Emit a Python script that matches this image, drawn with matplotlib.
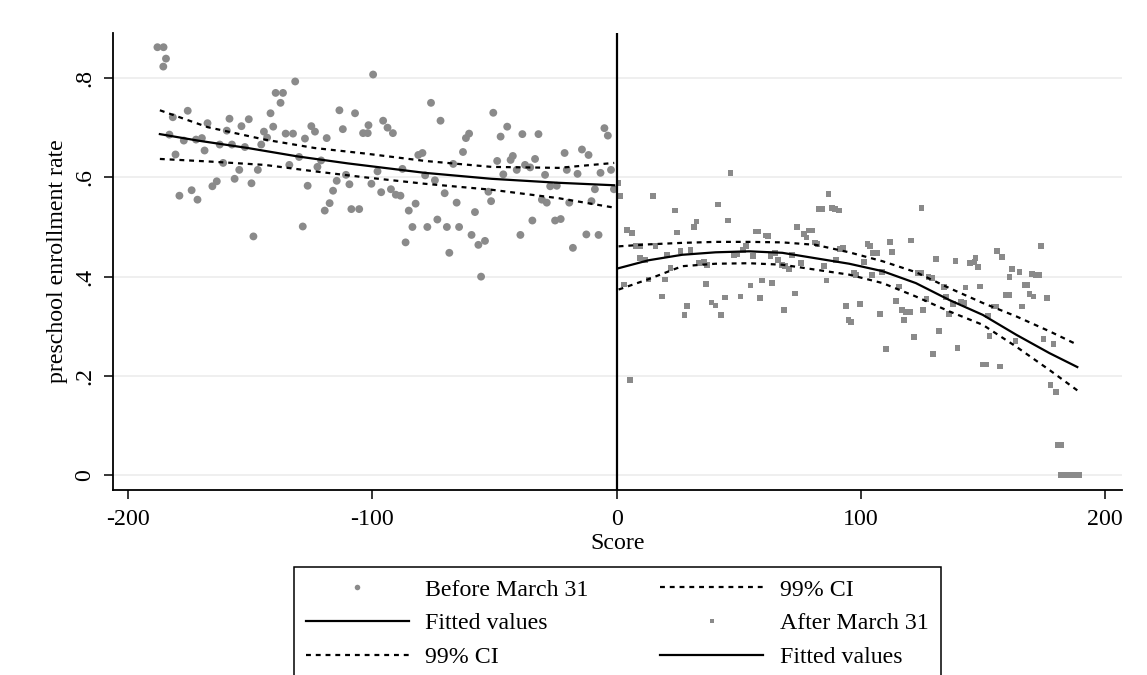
import matplotlib
matplotlib.use("Agg")
from matplotlib import pyplot as plt
from matplotlib.lines import Line2D

plt.rcParams["font.family"] = ["Liberation Serif", "DejaVu Serif"]
plt.rcParams["font.size"] = 17.2
plt.rcParams["axes.unicode_minus"] = False

# points left of the cutoff (score, enrollment rate)
before_x = [
    -188, -185.5, -184.5, -185.6, -181.7, -175.6, -183.1, -180.6, -179.0, -174.0,
    -171.6, -177.2, -172.2, -169.8, -168.7, -167.5, -162.5, -158.5, -159.6, -161.1,
    -165.5, -163.7, -157.5, -156.4, -153.6, -150.6, -152.2, -154.5, -149.5, -148.7,
    -146.9, -144.4, -143.1, -145.5, -141.7, -140.6, -139.6, -136.6, -137.6, -135.5,
    -132.5, -131.6, -134.0, -130.0, -127.6, -126.5, -125.0, -123.5, -122.5, -121.0,
    -118.7, -113.5, -112.1, -107.1, -103.8, -101.9, -110.8, -114.6, -109.4, -116.1,
    -117.5, -119.5, -108.6, -105.4, -128.5, -99.7, -101.6, -95.6, -93.8, -91.6,
    -100.4, -97.9, -96.4, -92.4, -90.4, -88.5, -87.7, -82.3, -85.1, -83.6,
    -77.5, -73.4, -69.5, -64.5, -81.2, -79.5, -78.4, -76.0, -74.4, -72.1,
    -70.4, -66.9, -65.5, -62.9, -61.7, -60.4, -58.0, -52.5, -51.4, -50.5,
    -48.9, -47.5, -46.4, -44.8, -43.4, -42.5, -40.9, -38.6, -37.5, -35.4,
    -33.4, -32.0, -34.5, -30.6, -28.6, -29.3, -27.2, -24.5, -25.2, -22.9,
    -21.3, -20.4, -19.4, -16.0, -14.2, -11.5, -10.3, -8.9, -6.6, -5.0,
    -3.6, -2.3, -1.1, -86.4, -68.5, -59.4, -56.6, -53.9, -55.5, -39.4,
    -17.9, -12.4, -7.4,
]
before_y = [
    0.862, 0.862, 0.839, 0.823, 0.721, 0.734, 0.686, 0.646, 0.563, 0.574,
    0.555, 0.674, 0.676, 0.679, 0.654, 0.709, 0.666, 0.718, 0.694, 0.629,
    0.582, 0.592, 0.666, 0.597, 0.703, 0.717, 0.661, 0.615, 0.588, 0.481,
    0.615, 0.692, 0.680, 0.666, 0.729, 0.702, 0.770, 0.770, 0.750, 0.688,
    0.688, 0.793, 0.625, 0.641, 0.678, 0.583, 0.703, 0.692, 0.621, 0.634,
    0.679, 0.735, 0.697, 0.729, 0.689, 0.689, 0.605, 0.593, 0.586, 0.573,
    0.548, 0.533, 0.536, 0.536, 0.501, 0.807, 0.705, 0.714, 0.700, 0.689,
    0.587, 0.612, 0.570, 0.576, 0.565, 0.563, 0.617, 0.547, 0.533, 0.500,
    0.500, 0.515, 0.500, 0.500, 0.645, 0.649, 0.604, 0.750, 0.594, 0.714,
    0.568, 0.627, 0.549, 0.651, 0.679, 0.688, 0.530, 0.571, 0.552, 0.730,
    0.633, 0.682, 0.606, 0.702, 0.635, 0.643, 0.615, 0.687, 0.625, 0.620,
    0.637, 0.687, 0.513, 0.555, 0.549, 0.605, 0.582, 0.583, 0.513, 0.516,
    0.649, 0.615, 0.549, 0.607, 0.656, 0.645, 0.552, 0.576, 0.609, 0.699,
    0.684, 0.615, 0.576, 0.469, 0.448, 0.484, 0.464, 0.472, 0.400, 0.484,
    0.458, 0.485, 0.484,
]

# points right of the cutoff
after_x = [
    0.8, 1.5, 4.2, 6.3, 7.7, 9.7, 2.9, 9.7, 11.8, 13.1,
    14.8, 15.9, 18.6, 19.7, 20.6, 22.0, 23.8, 24.7, 26.1, 27.8,
    28.8, 30.2, 31.6, 32.7, 33.6, 35.7, 36.6, 37.1, 38.8, 40.5,
    41.6, 42.8, 44.3, 45.7, 46.6, 48.0, 49.4, 50.7, 51.7, 53.0,
    54.8, 55.8, 56.9, 58.0, 58.8, 59.6, 61.0, 61.9, 63.0, 63.7,
    64.8, 66.2, 67.6, 68.5, 68.9, 70.6, 71.7, 72.9, 73.8, 75.4,
    76.7, 77.7, 78.5, 79.9, 81.2, 82.2, 82.6, 84.0, 85.0, 86.7,
    85.9, 88.1, 89.4, 91.1, 89.7, 91.4, 92.7, 93.8, 94.9, 95.9,
    97.2, 97.9, 5.6, 99.6, 101.3, 102.7, 103.7, 104.7, 106.8, 104.5,
    107.8, 108.6, 110.2, 111.9, 112.7, 114.3, 115.7, 116.8, 118.4, 120.1,
    117.7, 120.6, 121.8, 123.2, 124.6, 124.8, 125.5, 126.9, 127.7, 129.1,
    129.6, 130.8, 132.1, 133.9, 134.9, 136.2, 137.6, 138.7, 139.6, 141.0,
    142.4, 142.8, 144.7, 146.5, 147.8, 146.9, 148.8, 149.9, 151.3, 151.9,
    152.6, 154.3, 155.4, 155.8, 157.0, 157.8, 159.5, 160.5, 160.8, 161.8,
    163.3, 164.9, 165.9, 167.0, 167.9, 169.0, 170.7, 170.0, 171.5, 173.1,
    173.8, 174.8, 176.3, 177.6, 178.9, 179.8, 180.5, 182.0, 182.0, 183.5,
    185.0, 186.5, 188.0, 189.5,
]
after_y = [
    0.589, 0.562, 0.494, 0.488, 0.461, 0.462, 0.384, 0.437, 0.434, 0.394,
    0.563, 0.462, 0.360, 0.394, 0.444, 0.417, 0.533, 0.489, 0.451, 0.323,
    0.341, 0.454, 0.500, 0.511, 0.427, 0.429, 0.385, 0.424, 0.348, 0.342,
    0.545, 0.323, 0.358, 0.513, 0.609, 0.444, 0.446, 0.360, 0.454, 0.461,
    0.382, 0.441, 0.491, 0.491, 0.357, 0.392, 0.483, 0.482, 0.441, 0.387,
    0.448, 0.433, 0.424, 0.333, 0.421, 0.415, 0.444, 0.366, 0.500, 0.427,
    0.486, 0.479, 0.493, 0.493, 0.469, 0.466, 0.536, 0.536, 0.422, 0.566,
    0.392, 0.538, 0.536, 0.533, 0.433, 0.456, 0.458, 0.341, 0.313, 0.309,
    0.408, 0.404, 0.192, 0.345, 0.429, 0.466, 0.461, 0.448, 0.448, 0.404,
    0.325, 0.410, 0.254, 0.470, 0.450, 0.351, 0.380, 0.333, 0.329, 0.329,
    0.313, 0.473, 0.278, 0.408, 0.407, 0.538, 0.333, 0.355, 0.399, 0.397,
    0.244, 0.436, 0.290, 0.379, 0.359, 0.325, 0.345, 0.432, 0.257, 0.350,
    0.347, 0.378, 0.427, 0.429, 0.420, 0.437, 0.380, 0.223, 0.223, 0.322,
    0.281, 0.340, 0.340, 0.451, 0.219, 0.439, 0.363, 0.363, 0.399, 0.416,
    0.271, 0.409, 0.340, 0.383, 0.383, 0.365, 0.360, 0.406, 0.404, 0.404,
    0.461, 0.275, 0.357, 0.182, 0.264, 0.167, 0.061, 0.061, 0.0, 0.0,
    0.0, 0.0, 0.0, 0.0,
]

# fitted values and 99% CI
fit_l_x = [-187, -171.5, -151, -130.5, -110, -78.5, -51.2, -23.8, -1]
fit_l_y = [0.687, 0.674, 0.659, 0.642, 0.628, 0.609, 0.597, 0.589, 0.584]
ci_l_x = [-187, -167.4, -144.1, -123.6, -103.1, -78.5, -51.2, -23.8, -1]
ci_l_hi = [0.735, 0.701, 0.676, 0.659, 0.648, 0.633, 0.621, 0.619, 0.629]
ci_l_lo = [0.637, 0.632, 0.625, 0.612, 0.600, 0.587, 0.575, 0.558, 0.539]

fit_r_x = [0.8, 13.1, 26.8, 40.5, 54.2, 67.8, 81.5, 95.2, 108.9, 122.5, 136.2, 149.9, 163.6, 177.2, 188.6]
fit_r_y = [0.417, 0.433, 0.444, 0.449, 0.451, 0.448, 0.437, 0.426, 0.411, 0.387, 0.353, 0.323, 0.283, 0.246, 0.218]
ci_r_hi = [0.461, 0.465, 0.468, 0.470, 0.470, 0.469, 0.464, 0.449, 0.431, 0.409, 0.377, 0.347, 0.320, 0.290, 0.263]
ci_r_lo = [0.374, 0.395, 0.421, 0.426, 0.427, 0.424, 0.414, 0.404, 0.387, 0.360, 0.330, 0.303, 0.259, 0.212, 0.171]

x_ticks = [-200, -100, 0, 100, 200]
y_ticks = [0, 0.2, 0.4, 0.6, 0.8]
y_labels = ["0", ".2", ".4", ".6", ".8"]

gray = "#8a8a8a"
dash = (0, (2.2, 2.2))

fig = plt.figure(figsize=(11.47, 6.75), dpi=100)
ax = fig.add_axes([0.0985, 0.2741, 0.8797, 0.677])

for y in y_ticks:
    ax.axhline(y, color="#ececec", lw=1.2, zorder=0)

ax.scatter(before_x, before_y, s=32, color=gray, edgecolors="none", zorder=2)
ax.scatter(after_x, after_y, s=17, marker="s", color=gray, edgecolors="none", zorder=2)

ax.plot(fit_l_x, fit_l_y, color="black", lw=1.6, zorder=3)
ax.plot(ci_l_x, ci_l_hi, color="black", lw=1.6, ls=dash, zorder=3)
ax.plot(ci_l_x, ci_l_lo, color="black", lw=1.6, ls=dash, zorder=3)
ax.plot(fit_r_x, fit_r_y, color="black", lw=1.6, zorder=3)
ax.plot(fit_r_x, ci_r_hi, color="black", lw=1.6, ls=dash, zorder=3)
ax.plot(fit_r_x, ci_r_lo, color="black", lw=1.6, ls=dash, zorder=3)

ax.axvline(0, color="black", lw=1.6, zorder=4)

ax.set_xlim(-206.2, 206.9)
ax.set_ylim(-0.0296, 0.8906)
ax.spines["top"].set_visible(False)
ax.spines["right"].set_visible(False)
ax.spines["left"].set_linewidth(1.3)
ax.spines["bottom"].set_linewidth(1.3)

ax.set_xticks(x_ticks)
ax.set_yticks(y_ticks)
ax.set_yticklabels(y_labels, rotation=90, va="center")
ax.tick_params(direction="out", length=6.5, width=1.1)
ax.tick_params(axis="x", pad=7)
ax.tick_params(axis="y", pad=6)
ax.set_xlabel("Score", labelpad=2)
ax.set_ylabel("preschool enrollment rate", labelpad=5)

# legend columns follow Stata's row order
h_before = Line2D([], [], ls="none", marker="o", markersize=4, color=gray, markeredgewidth=0)
h_after = Line2D([], [], ls="none", marker="s", markersize=3, color=gray, markeredgewidth=0)
h_fit = Line2D([], [], color="black", lw=1.6)
h_ci = Line2D([], [], color="black", lw=1.6, ls=dash)
leg = fig.legend(
    [h_before, h_fit, h_ci, h_ci, h_after, h_fit],
    ["Before March 31", "Fitted values", "99% CI", "99% CI", "After March 31", "Fitted values"],
    ncol=2,
    loc="upper left",
    bbox_to_anchor=(294 / 1147, 1 - 567 / 675),
    borderaxespad=0,
    fancybox=False,
    framealpha=1,
    edgecolor="black",
    handlelength=4.3,
    handletextpad=0.7,
    columnspacing=3.0,
    labelspacing=0.5,
    borderpad=0.5,
)
leg.get_frame().set_linewidth(1.1)

fig.savefig("out.png", dpi=100, facecolor="white")
